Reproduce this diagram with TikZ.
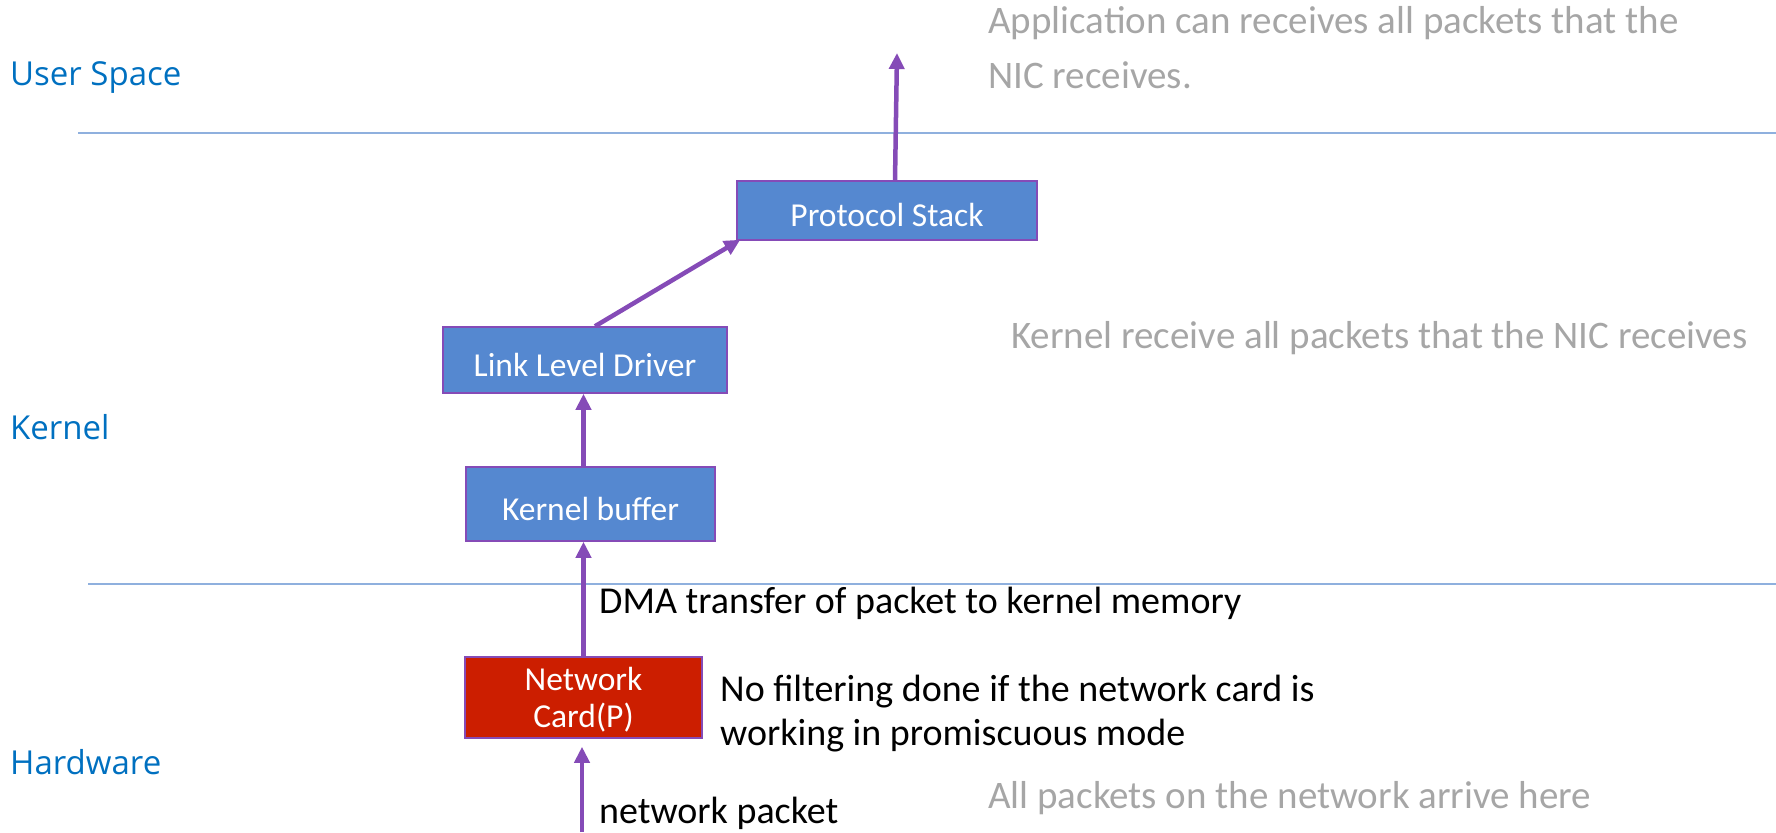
\documentclass[tikz,border=0pt]{standalone}
\usepackage{fontspec}
\setmainfont{Carlito}
\newfontfamily\layerfont{Open Sans}
\usepackage{tikz}
\usetikzlibrary{positioning}
\usetikzlibrary{arrows.meta}

\definecolor{boxblue}{RGB}{85,136,208}
\definecolor{nicred}{RGB}{204,30,0}
\definecolor{flowpurple}{RGB}{133,75,183}
\definecolor{layerblue}{RGB}{0,112,192}
\definecolor{notegray}{RGB}{166,166,166}
\definecolor{sepline}{RGB}{143,176,222}

\tikzset{
	stage/.style={draw=flowpurple, line width=1.5pt, fill=boxblue, text=white, inner sep=0pt,
		text depth=0pt, font=\fontsize{33.5}{37}\selectfont, align=center},
	stageline/.style={stage, text height=32pt},
	flow/.style={draw=flowpurple, line width=4.5pt, -{Triangle[length=16pt,width=15pt]}},
	layer/.style={text=layerblue, inner sep=0pt, anchor=base west, font=\layerfont\fontsize{33}{40}\selectfont},
	note/.style={text=notegray, inner sep=0pt, align=left, font=\fontsize{39}{55}\selectfont},
	remark/.style={text=black, inner sep=0pt, align=left, font=\fontsize{38}{44}\selectfont},
	divider/.style={draw=sepline, line width=1.3pt}
}

\begin{document}
\begin{tikzpicture}[x=1pt,y=-1pt]
		\useasboundingbox (0,0) rectangle (1776,832);
		\draw[divider] (78,133) -- (1776,133);
		\draw[divider] (88,584) -- (1776,584);
		\node[layer] (user) at (10,86) {User Space};
		\node[layer] (kern) at (10,439) {Kernel};
		\node[layer] (hw) at (10,774) {Hardware};
		\node[stageline, minimum width=300pt, minimum height=59pt] (stack) at (887,210.5) {Protocol Stack};
		\node[stageline, minimum width=284pt, minimum height=66pt] (driver) at (585,360) {Link Level Driver};
		\node[stageline, minimum width=249pt, minimum height=74pt] (kbuf) at (590.5,504) {Kernel buffer};
		\node[stage, fill=nicred, minimum width=237pt, minimum height=81pt] (nic) at (583.5,697.5) {Network\\Card(P)};
		\coordinate (app) at (897,53);
		\coordinate (wire) at (582,832);
		\draw[flow] (nic.north) -- (nic.north |- kbuf.south);
		\draw[flow] (kbuf.north -| nic.north) -- (nic.north |- driver.south);
		\draw[flow] ([xshift=10pt]driver.north) -- ([xshift=4pt,yshift=1pt]stack.south west);
		\draw[flow] ([xshift=8pt]stack.north) -- (app);
		\draw[flow, shorten >=8pt] (wire) -- (nic.south -| wire);
		\node[note, anchor=north west] (appnote) at (988,6) {Application can receives all packets that the\\NIC receives.};
		\node[note, anchor=base west] (kernnote) at (1011,348) {Kernel receive all packets that the NIC receives};
		\node[note, anchor=base west] (hwnote) at (988,808) {All packets on the network arrive here};
		\node[remark, anchor=base west] (dma) at (599,613) {DMA transfer of packet to kernel memory};
		\node[remark, anchor=north west] (promisc) at (720,675) {No filtering done if the network card is\\working in promiscuous mode};
		\node[remark, anchor=base west] (pkt) at (599,823) {network packet};
	\end{tikzpicture}
\end{document}
